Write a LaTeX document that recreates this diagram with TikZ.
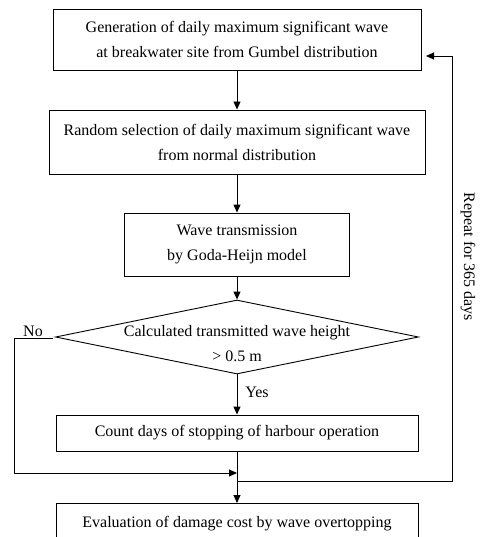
\documentclass[tikz,border=0pt]{standalone}
\usepackage{fontspec}
\setmainfont{Liberation Serif}
\usetikzlibrary{shapes.geometric,arrows.meta}
\begin{document}
\begin{tikzpicture}[x=1pt,y=-1pt,
  every node/.style={font=\fontsize{16}{25}\selectfont},
  box/.style={draw,line width=0.9pt,inner sep=0pt,align=center},
  arr/.style={-{Triangle[length=8pt,width=7pt]},line width=0.9pt},
  ln/.style={line width=0.9pt},
  lab/.style={inner sep=0pt}]
\useasboundingbox (0,0) rectangle (479,537);
\clip (0,0) rectangle (479,537);
\node[box,minimum width=368pt,minimum height=61pt] (b1) at (237,39.5) {Generation of daily maximum significant wave\\at breakwater site from Gumbel distribution};
\node[box,minimum width=376pt,minimum height=64pt] (b2) at (237,142) {Random selection of daily maximum significant wave\\from normal distribution};
\node[box,minimum width=225pt,minimum height=63pt] (b3) at (237,244.5) {Wave transmission\\by Goda-Heijn model};
\node[diamond,draw,line width=0.9pt,minimum width=363pt,minimum height=74pt,inner sep=0pt] (d) at (237,337) {};
\node[lab,align=center] (dt) at (237,344) {Calculated transmitted wave height\\> 0.5 m};
\node[box,minimum width=362pt,minimum height=36pt] (b4) at (237,433) {Count days of stopping of harbour operation};
\node[box,minimum width=362pt,minimum height=60pt,anchor=north] (b5) at (237,503) {};
\node[lab] (b5t) at (237,524) {Evaluation of damage cost by wave overtopping};
\node[lab] (yes) at (257,392) {Yes};
\node[lab] (no) at (33,331) {No};
\node[lab,rotate=-90] (rep) at (468,257) {Repeat for 365 days};
\draw[arr] (b1.south) -- (b2.north);
\draw[arr] (b2.south) -- (b3.north);
\draw[arr] (b3.south) -- (d.north);
\draw[arr] (d.south) -- (b4.north);
\draw[arr] (b4.south) -- (b5.north);
\coordinate (n0) at (53,338);
\coordinate (n1) at (14,338);
\coordinate (n2) at (14,473);
\coordinate (n3) at (237,473);
\draw[ln] (n0) -- (n1) -- (n2);
\draw[arr] (n2) -- (n3);
\coordinate (r0) at (238,481);
\coordinate (r1) at (452,481);
\coordinate (r2) at (452,56);
\coordinate (r3) at (426,56);
\draw[ln] (r0) -- (r1) -- (r2);
\draw[arr] (r2) -- (r3);
\end{tikzpicture}
\end{document}
